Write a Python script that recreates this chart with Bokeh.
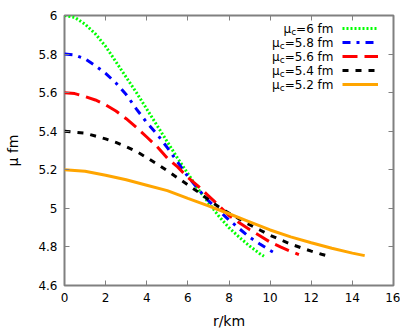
from bokeh.plotting import figure
from bokeh.models import (Range1d, FixedTicker, LinearAxis, Legend, LegendItem,
                          Label, ColumnDataSource)
from bokeh.core.properties import value
from bokeh.embed import file_html
from bokeh.resources import INLINE

# ---- data ----
r_6 = [0, 0.5, 1, 1.5, 2, 2.5, 3, 3.5, 4, 4.5, 5, 5.5, 6, 6.5, 7, 7.5, 8, 8.5, 9, 9.5, 9.7]
mu_6 = [6.0, 5.99, 5.955, 5.905, 5.84, 5.76, 5.68, 5.6, 5.515, 5.43, 5.345, 5.26, 5.18, 5.1,
        5.03, 4.96, 4.9, 4.85, 4.805, 4.765, 4.752]

r_58 = [0, 0.5, 1, 1.5, 2, 2.5, 3, 3.5, 4, 4.5, 5, 5.5, 6, 6.5, 7, 7.5, 8, 8.5, 9, 9.5, 10, 10.2]
mu_58 = [5.8, 5.795, 5.775, 5.74, 5.7, 5.65, 5.59, 5.515, 5.445, 5.385, 5.315, 5.24, 5.165,
         5.1, 5.04, 4.99, 4.94, 4.895, 4.85, 4.815, 4.782, 4.77]

r_56 = [0, 0.5, 1, 1.5, 2, 2.5, 3, 3.5, 4, 4.5, 5, 5.5, 6, 6.5, 7, 7.5, 8, 8.5, 9, 9.5, 10,
        10.5, 11, 11.4]
mu_56 = [5.6, 5.595, 5.58, 5.562, 5.537, 5.505, 5.465, 5.42, 5.37, 5.32, 5.26, 5.215, 5.16,
         5.115, 5.065, 5.015, 4.963, 4.925, 4.89, 4.858, 4.825, 4.8, 4.777, 4.76]

r_54 = [0, 1, 1.5, 2, 2.5, 3, 3.5, 4, 4.5, 5, 5.5, 6, 6.5, 7, 7.5, 8, 8.5, 9, 9.5, 10, 10.5,
        11, 11.5, 12, 12.5, 12.75]
mu_54 = [5.4, 5.39, 5.375, 5.36, 5.342, 5.32, 5.295, 5.263, 5.23, 5.195, 5.158, 5.122, 5.085,
         5.045, 5.008, 4.975, 4.945, 4.915, 4.888, 4.86, 4.837, 4.815, 4.796, 4.778, 4.762, 4.755]

r_52 = [0, 1, 2, 3, 4, 5, 6, 7, 8, 9, 10, 11, 12, 13, 14, 14.6]
mu_52 = [5.2, 5.192, 5.172, 5.148, 5.12, 5.092, 5.052, 5.013, 4.972, 4.93, 4.888, 4.852,
         4.822, 4.793, 4.768, 4.755]

series_names = ["6", "5.8", "5.6", "5.4", "5.2"]
x_ticks = [0, 2, 4, 6, 8, 10, 12, 14, 16]
y_ticks = [4.6, 4.8, 5.0, 5.2, 5.4, 5.6, 5.8, 6.0]
y_tick_labels = ["4.6", "4.8", "5", "5.2", "5.4", "5.6", "5.8", "6"]

# ---- styles ----
FONT = "DejaVu Sans"
GRAY = "#808080"
colors = ["#00ff00", "#0000ff", "#ff0000", "#000000", "#ffa500"]
dashes = ["2 2", "8 6 3 6", "15 7", "6 7", "solid"]

p = figure(width=400, height=331, x_range=Range1d(0, 16), y_range=Range1d(4.6, 6),
           output_backend="svg", toolbar_location=None,
           min_border_left=64, min_border_right=7, min_border_top=15, min_border_bottom=46)
p.grid.visible = False
p.outline_line_color = GRAY
p.outline_line_width = 2
p.background_fill_color = "white"
p.border_fill_color = "white"

def style_axis(ax, ticks, show_labels):
    ax.ticker = FixedTicker(ticks=ticks)
    ax.axis_line_color = None
    ax.major_tick_in = 5
    ax.major_tick_out = 0
    ax.major_tick_line_color = GRAY
    ax.major_tick_line_width = 1
    ax.minor_tick_line_color = None
    ax.major_label_text_font = FONT
    if show_labels:
        ax.major_label_text_font_size = "12px"
        ax.major_label_text_color = "#000000"
    else:
        ax.major_label_text_font_size = "0px"
        ax.major_label_standoff = 0
        ax.major_label_text_color = None

style_axis(p.xaxis[0], x_ticks, True)
style_axis(p.yaxis[0], y_ticks, True)
p.yaxis[0].major_label_overrides = {t: s for t, s in zip(y_ticks, y_tick_labels)}
p.xaxis[0].major_label_standoff = 7
p.yaxis[0].major_label_standoff = 7

p.xaxis[0].axis_label = "r/km"
p.yaxis[0].axis_label = "μ fm"
for ax in (p.xaxis[0], p.yaxis[0]):
    ax.axis_label_text_font = FONT
    ax.axis_label_text_font_size = "14px"
    ax.axis_label_text_font_style = "normal"
    ax.axis_label_text_color = "#000000"
p.xaxis[0].axis_label_standoff = 8
p.yaxis[0].axis_label_standoff = 14

top_ax = LinearAxis()
right_ax = LinearAxis()
style_axis(top_ax, x_ticks, False)
style_axis(right_ax, y_ticks, False)
p.add_layout(top_ax, "above")
p.add_layout(right_ax, "right")

# ---- curves ----
all_r = [r_6, r_58, r_56, r_54, r_52]
all_mu = [mu_6, mu_58, mu_56, mu_54, mu_52]
items = []
for rr, mm, c, d in zip(all_r, all_mu, colors, dashes):
    src = ColumnDataSource(data=dict(r=rr, mu=mm))
    rend = p.line("r", "mu", source=src, line_color=c, line_width=3, line_dash=d)
    items.append(LegendItem(label=value(""), renderers=[rend]))

legend = Legend(items=items, location=(278, 194), padding=0, spacing=0, margin=0,
                glyph_width=36, glyph_height=14, label_width=0, label_height=14,
                label_standoff=0, border_line_color=None, background_fill_alpha=0,
                label_text_font_size="12px")
p.add_layout(legend, "center")

# ---- legend text (gnuplot style: text left of sample, right aligned) ----
W = {"=": 0.838, "0": 0.636, "1": 0.636, "2": 0.636, "3": 0.636, "4": 0.636, "5": 0.636,
     "6": 0.636, "7": 0.636, "8": 0.636, "9": 0.636, ".": 0.318, " ": 0.318, "f": 0.352,
     "m": 0.974, "c": 0.55}

def tw(s, size):
    return sum(W.get(ch, 0.6) for ch in s) * size

for i, name in enumerate(series_names):
    rest = "=" + name + " fm"
    yoff = -(13 + 14 * i)
    xr = -60
    w_rest = tw(rest, 12)
    w_c = tw("c", 9)
    common = dict(x=16, y=6, text_font=FONT, text_color="#000000",
                  text_align="right", text_baseline="middle")
    p.add_layout(Label(x_offset=xr, y_offset=yoff, text=rest, text_font_size="12px", **common))
    p.add_layout(Label(x_offset=xr - w_rest, y_offset=yoff - 3, text="c",
                       text_font_size="9px", **common))
    p.add_layout(Label(x_offset=xr - w_rest - w_c, y_offset=yoff, text="μ",
                       text_font_size="12px", **common))

open("out.html", "w").write(file_html(p, INLINE))
